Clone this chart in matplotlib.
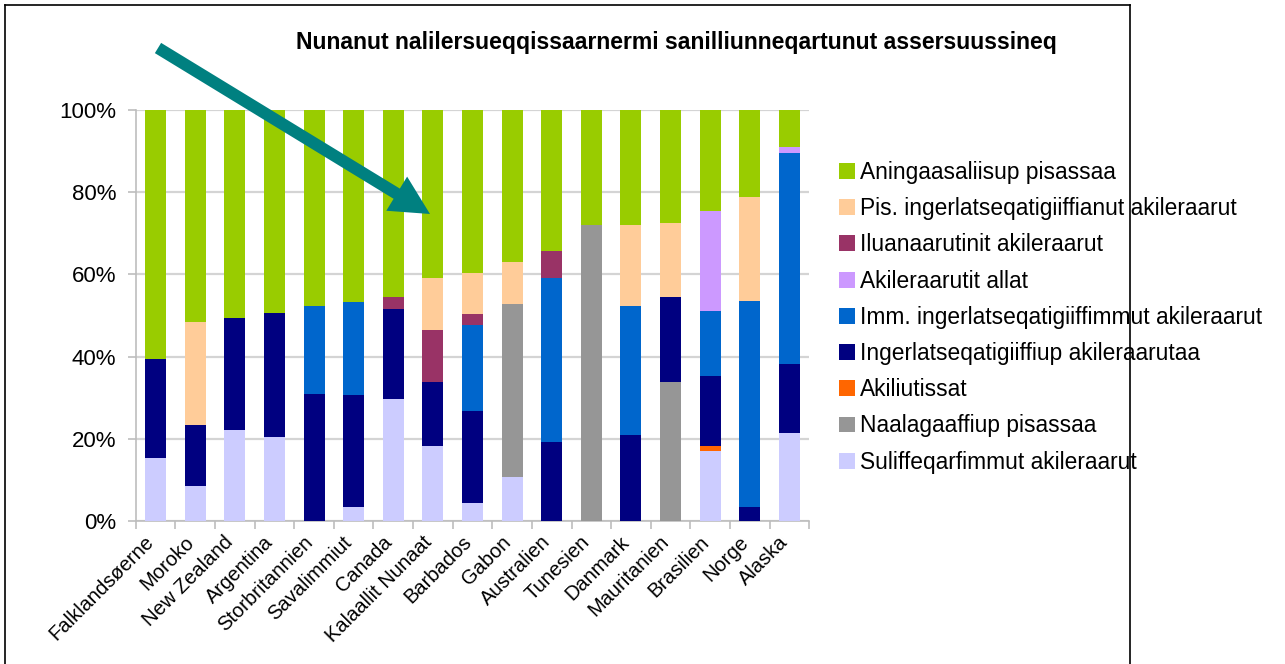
import matplotlib
matplotlib.use("Agg")
import matplotlib.pyplot as plt
import matplotlib.transforms as mtransforms
import numpy as np
from matplotlib.patches import FancyArrow

plt.rcParams['font.family'] = ['Liberation Sans', 'DejaVu Sans']

categories = ["Falklandsøerne", "Moroko", "New Zealand", "Argentina", "Storbritannien",
              "Savalimmiut", "Canada", "Kalaallit Nunaat", "Barbados", "Gabon", "Australien",
              "Tunesien", "Danmark", "Mauritanien", "Brasilien", "Norge", "Alaska"]

# series from bottom to top of the stack
suliffeqarfimmut = [15.4, 8.4, 22.1, 20.5, 0, 3.3, 29.8, 18.3, 4.5, 10.8, 0, 0, 0, 0, 17.1, 0, 21.5]
naalagaaffiup = [0, 0, 0, 0, 0, 0, 0, 0, 0, 42.1, 0, 72.0, 0, 33.7, 0, 0, 0]
akiliutissat = [0, 0, 0, 0, 0, 0, 0, 0, 0, 0, 0, 0, 0, 0, 1.2, 0, 0]
ingerlatseqatigiiffiup = [24.1, 15.0, 27.3, 30.0, 31.0, 27.4, 21.9, 15.4, 22.3, 0, 19.3, 0, 21.0, 20.9, 17.1, 3.5, 16.7]
imm_ingerlatseqatigiiffimmut = [0, 0, 0, 0, 21.2, 22.7, 0, 0, 20.9, 0, 39.9, 0, 31.4, 0, 15.8, 50.0, 51.4]
akileraarutit_allat = [0, 0, 0, 0, 0, 0, 0, 0, 0, 0, 0, 0, 0, 0, 24.3, 0, 1.4]
iluanaarutinit = [0, 0, 0, 0, 0, 0, 2.9, 12.8, 2.7, 0, 6.6, 0, 0, 0, 0, 0, 0]
pis_ingerlatseqatigiiffianut = [0, 24.9, 0, 0, 0, 0, 0, 12.7, 9.9, 10.0, 0, 0, 19.6, 18.0, 0, 25.3, 0]
aningaasaliisup = [60.5, 51.7, 50.6, 49.5, 47.8, 46.6, 45.4, 40.8, 39.7, 37.1, 34.2, 28.0, 28.0, 27.4, 24.5, 21.2, 9.0]

series_labels = ["Suliffeqarfimmut akileraarut", "Naalagaaffiup pisassaa", "Akiliutissat",
                 "Ingerlatseqatigiiffiup akileraarutaa", "Imm. ingerlatseqatigiiffimmut akileraarut",
                 "Akileraarutit allat", "Iluanaarutinit akileraarut",
                 "Pis. ingerlatseqatigiiffianut akileraarut", "Aningaasaliisup pisassaa"]
series_values = [suliffeqarfimmut, naalagaaffiup, akiliutissat, ingerlatseqatigiiffiup,
                 imm_ingerlatseqatigiiffimmut, akileraarutit_allat, iluanaarutinit,
                 pis_ingerlatseqatigiiffianut, aningaasaliisup]
series_colors = ["#CCCCFF", "#969696", "#FF6600", "#000080", "#0066CC",
                 "#CC99FF", "#993366", "#FFCC99", "#99CC00"]

W, H = 1285, 664
fig = plt.figure(figsize=(W / 100, H / 100), dpi=100)
ax = fig.add_axes([135.7 / W, 1 - 521 / H, (809.3 - 135.7) / W, (521 - 110) / H])

x = np.arange(len(categories))
bottom = np.zeros(len(categories))
handles = []
for vals, lab, col in zip(series_values, series_labels, series_colors):
    v = np.array(vals, dtype=float)
    b = ax.bar(x, v, bottom=bottom, width=0.53, color=col, label=lab, zorder=3)
    handles.append(b)
    bottom += v

ax.set_xlim(-0.5, len(categories) - 0.5)
ax.set_ylim(0, 100)
ax.set_yticks([0, 20, 40, 60, 80, 100])
ax.set_yticklabels(["0%", "20%", "40%", "60%", "80%", "100%"], fontsize=16)
ax.yaxis.grid(True, color="#d4d4d4", linewidth=1.6, zorder=0)
ax.set_axisbelow(True)
for s in ["top", "right"]:
    ax.spines[s].set_visible(False)
for s in ["left", "bottom"]:
    ax.spines[s].set_color("#bdbdbd")
    ax.spines[s].set_linewidth(1.2)
ax.tick_params(axis="y", length=6, color="#bdbdbd", width=1.2, pad=8)

ax.set_xticks(np.arange(-0.5, len(categories), 1.0))
ax.set_xticklabels([])
ax.tick_params(axis="x", length=6, color="#bdbdbd", width=1.2)
ax.set_xticks(x, minor=True)
ax.set_xticklabels(categories, minor=True, rotation=45, ha="right", va="top",
                   rotation_mode="anchor", fontsize=14.5)
ax.tick_params(axis="x", which="minor", length=0, pad=6)
shift = mtransforms.ScaledTranslation(-11 / 100, -3 / 100, fig.dpi_scale_trans)
for lbl in ax.xaxis.get_minorticklabels():
    lbl.set_transform(lbl.get_transform() + shift)

fig.text(676 / W, 1 - 42 / H, "Nunanut nalilersueqqissaarnermi sanilliunneqartunut assersuussineq",
         ha="center", va="center", fontsize=16.6, fontweight="bold")

leg = fig.legend(handles[::-1], series_labels[::-1], loc="upper left",
                 bbox_to_anchor=(839 / W, 1 - 161 / H), frameon=False, fontsize=16.4,
                 handlelength=0.7, handleheight=0.7, handletextpad=0.22,
                 labelspacing=0.58, borderpad=0, borderaxespad=0)

# overlay for arrow annotation and chart frame (pixel coordinates)
ov = fig.add_axes([0, 0, 1, 1], zorder=10)
ov.set_xlim(0, W)
ov.set_ylim(H, 0)
ov.axis("off")
ov.patch.set_alpha(0)
tail = np.array([158.0, 48.0])
tip = np.array([430.0, 214.0])
d = tip - tail
ov.add_patch(FancyArrow(tail[0], tail[1], d[0], d[1], width=12, head_width=40,
                        head_length=39, length_includes_head=True,
                        color="#008080", linewidth=0))
ov.plot([5, 5], [5, H + 5], color="black", linewidth=1.2)
ov.plot([5, 1130], [5, 5], color="black", linewidth=1.2)
ov.plot([1130, 1130], [5, H + 5], color="black", linewidth=1.2)

fig.savefig("out.png", dpi=100)
